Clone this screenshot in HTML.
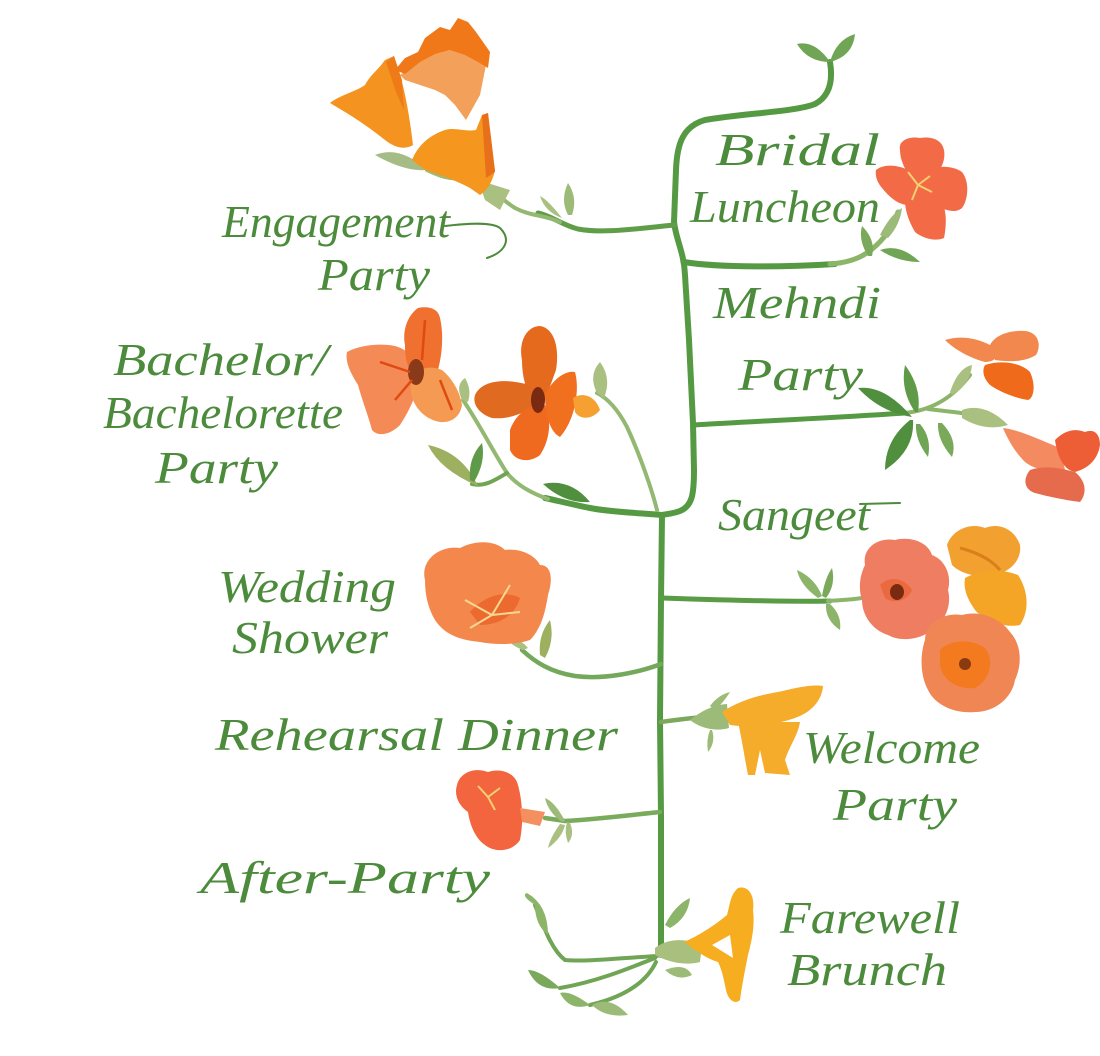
<!DOCTYPE html>
<html><head><meta charset="utf-8"><style>
html,body{margin:0;padding:0;background:#fff;}
svg{display:block}
.t{font-family:"Liberation Serif",serif;font-style:italic;font-size:46px;fill:#4b8b3b;}
</style></head><body>
<svg width="1100" height="1056" viewBox="0 0 1100 1056" xmlns="http://www.w3.org/2000/svg">
<rect width="1100" height="1056" fill="#fff"/>

<!-- ===== STEMS ===== -->
<g fill="none" stroke-linecap="round" stroke-linejoin="round">
<path d="M830 62 C833 80 830 96 815 104 C795 112 745 113 705 120 C684 126 677 142 676 170 L674 222 C676 240 684 252 685 275 L689 340 L693 423 L694 470 C694 495 692 506 680 511 C672 514 666 514 662 515 L661 600 L660 720 L661 815 L661 955" stroke="#559a43" stroke-width="6"/>
<!-- engagement -->
<path d="M675 225 C640 228 605 234 578 229 C562 225 552 216 538 213" stroke="#5f9d48" stroke-width="5"/>
<path d="M560 222 C545 215 530 216 515 208 C505 202 500 196 492 190" stroke="#93b871" stroke-width="4"/>
<path d="M427 170 C440 176 450 180 462 178" stroke="#9cbb78" stroke-width="4"/>
<!-- bridal -->
<path d="M684 262 C720 268 790 267 835 264" stroke="#559a43" stroke-width="6"/>
<path d="M830 264 C858 262 872 252 885 236 C890 228 895 220 898 212" stroke="#8db56a" stroke-width="5"/>
<!-- mehndi -->
<path d="M693 425 C760 421 830 418 905 413" stroke="#559a43" stroke-width="5"/>
<path d="M905 413 C935 410 955 395 970 375" stroke="#8db56a" stroke-width="4"/>
<path d="M928 409 C950 412 970 413 990 418" stroke="#8db56a" stroke-width="4"/>
<!-- bachelor -->
<path d="M662 515 C640 513 610 512 590 508 C570 504 555 500 545 498" stroke="#559a43" stroke-width="6"/>
<path d="M548 499 C528 492 515 483 507 473 C495 455 480 425 463 400" stroke="#93b871" stroke-width="4"/>
<path d="M657 510 C652 490 640 455 627 427 C617 408 607 398 597 393" stroke="#93b871" stroke-width="4"/>
<path d="M507 473 C495 480 485 487 472 484" stroke="#6fa554" stroke-width="4"/>
<!-- sangeet -->
<path d="M662 598 C720 600 790 602 830 601" stroke="#5a9c45" stroke-width="5"/>
<path d="M828 601 C840 600 850 600 862 598" stroke="#8db56a" stroke-width="4"/>
<!-- wedding shower -->
<path d="M661 664 C640 672 605 680 575 676 C550 672 535 662 522 650" stroke="#74a85a" stroke-width="4.5"/>
<!-- welcome -->
<path d="M661 722 C675 720 690 718 705 717" stroke="#7aa95c" stroke-width="4.5"/>
<!-- after party -->
<path d="M660 812 C630 815 600 819 565 821 L545 818" stroke="#7aaa5b" stroke-width="4.5"/>
<!-- farewell lower -->
<path d="M657 956 C620 958 585 962 565 960 C552 950 545 930 535 905" stroke="#6fa554" stroke-width="4"/>
<path d="M655 958 C625 970 595 982 560 988" stroke="#6fa554" stroke-width="4"/>
<path d="M656 962 C645 985 620 998 590 1005" stroke="#6fa554" stroke-width="4"/>
</g>

<!-- ===== LEAVES ===== -->
<g>
<!-- top -->
<path d="M830 62 Q815 40 797 44 Q808 62 830 62 Z" fill="#6fa554"/>
<path d="M830 62 Q836 40 855 34 Q853 56 830 62 Z" fill="#6fa554"/>
<!-- engagement buds -->
<path d="M568 215 Q560 200 568 183 Q578 198 572 215 Z" fill="#9cbb78"/>
<path d="M562 218 Q548 200 540 196 Q545 212 562 218 Z" fill="#a9c080"/>
<path d="M478 180 L510 190 L500 210 L485 200 Z" fill="#a9c080"/>
<path d="M375 155 Q400 145 427 170 Q405 172 375 155 Z" fill="#a6bc86"/>
<!-- bridal -->
<path d="M868 256 Q858 240 862 226 Q876 240 872 256 Z" fill="#7aa95c"/>
<path d="M880 250 Q900 243 920 262 Q898 262 880 250 Z" fill="#6fa554"/>
<path d="M880 235 Q890 215 902 208 Q900 225 888 238 Z" fill="#9cbb78"/>
<!-- mehndi -->
<path d="M858 388 Q885 385 912 417 Q880 412 858 388 Z" fill="#4f8f3e"/>
<path d="M915 412 Q900 390 905 365 Q922 388 918 412 Z" fill="#5e9a48"/>
<path d="M910 420 Q885 440 885 470 Q915 450 913 420 Z" fill="#4f8f3e"/>
<path d="M916 424 Q915 440 928 457 Q932 438 920 424 Z" fill="#6fa554"/>
<path d="M938 423 Q937 440 952 457 Q958 440 942 423 Z" fill="#7aa95c"/>
<path d="M950 392 Q958 368 972 365 Q970 385 952 395 Z" fill="#a9c080"/>
<path d="M962 410 Q985 402 1008 425 Q985 432 962 418 Z" fill="#a9c080"/>
<!-- bachelor -->
<path d="M478 486 Q440 470 428 445 Q462 452 478 486 Z" fill="#9cb060"/>
<path d="M470 480 Q468 458 482 443 Q486 462 474 482 Z" fill="#5e9a48"/>
<path d="M543 484 Q570 478 590 502 Q565 504 543 484 Z" fill="#4f8f3e"/>
<path d="M597 393 Q588 375 600 362 Q612 378 604 398 Z" fill="#a9c080"/>
<path d="M462 400 Q455 385 465 378 Q472 390 468 402 Z" fill="#a9c080"/>
<!-- sangeet -->
<path d="M818 598 Q800 585 797 570 Q815 578 822 596 Z" fill="#8db56a"/>
<path d="M822 596 Q825 578 832 568 Q836 585 826 598 Z" fill="#7aa95c"/>
<path d="M826 604 Q825 620 840 630 Q842 615 830 604 Z" fill="#8db56a"/>
<!-- wedding -->
<path d="M540 655 Q538 635 550 620 Q555 640 545 658 Z" fill="#9cb060"/>
<path d="M523 650 Q510 645 507 638 Q520 638 528 648 Z" fill="#a9c080"/>
<!-- welcome calyx -->
<path d="M690 720 C700 712 712 705 727 704 L729 728 C715 732 700 728 690 720 Z" fill="#9cbb78"/>
<path d="M710 706 Q718 695 730 692 Q724 702 715 710 Z" fill="#9cbb78"/>
<path d="M712 730 Q716 742 708 752 Q706 740 710 730 Z" fill="#9cbb78"/>
<!-- after party -->
<path d="M565 821 Q555 802 545 798 Q548 812 562 822 Z" fill="#9cbb78"/>
<path d="M560 824 Q550 838 548 848 Q562 838 565 825 Z" fill="#a9c080"/>
<path d="M570 823 Q575 835 568 843 Q564 832 567 822 Z" fill="#a9c080"/>
<!-- farewell -->
<path d="M665 925 Q675 905 690 898 Q688 918 670 928 Z" fill="#8db56a"/>
<path d="M655 948 C668 938 685 938 702 945 L700 962 C685 966 668 962 655 955 Z" fill="#a8bf7e"/>
<path d="M665 970 Q685 962 692 975 Q678 982 665 970 Z" fill="#9cbb78"/>
<path d="M535 905 Q520 895 527 893 Q548 905 548 935 Q535 925 535 905 Z" fill="#8db56a"/>
<path d="M560 988 Q540 970 528 970 Q538 992 560 988 Z" fill="#7aa95c"/>
<path d="M590 1005 Q570 990 560 993 Q570 1012 590 1005 Z" fill="#8db56a"/>
<path d="M592 1005 Q610 995 628 1015 Q605 1018 592 1005 Z" fill="#9cbb78"/>
</g>

<!-- ===== FLOWERS ===== -->
<!-- engagement A -->
<path d="M330 103 C340 95 355 92 365 85 C370 75 378 70 385 60 L394 56 L400 75 C406 95 410 120 413 145 C405 150 395 148 385 140 C370 128 355 118 345 112 Z" fill="#f59320"/>
<path d="M386 62 L394 56 L402 80 L404 110 L396 92 Z" fill="#ee7a18"/>
<!-- engagement B -->
<path d="M400 75 L430 55 L470 45 L486 65 L480 95 L466 120 L455 105 L445 95 L435 90 L420 85 L405 80 Z" fill="#f3a05a"/>
<path d="M395 70 L405 58 L418 52 L425 38 L440 27 L450 30 L458 18 L468 22 L476 32 L483 42 L490 52 L488 68 L478 62 L465 55 L450 50 L435 54 L420 62 L405 74 Z" fill="#f07818"/>
<!-- engagement C -->
<path d="M412 160 C418 145 430 135 445 130 C455 127 465 132 476 130 L482 115 L488 113 C490 130 492 150 495 170 C493 180 488 190 480 195 L470 188 C455 180 440 175 425 170 Z" fill="#f5961e"/>
<path d="M482 115 L488 113 C490 130 493 152 495 172 L486 178 Z" fill="#e8701a"/>

<!-- bridal -->
<g fill="#f26b46">
<path d="M900 150 C898 140 910 136 920 138 C932 136 942 140 944 150 C946 162 940 172 930 180 L915 182 C905 172 900 160 900 150 Z"/>
<path d="M925 172 C935 165 952 165 962 172 C970 182 968 200 962 208 C955 214 945 210 935 205 C928 195 924 185 925 172 Z"/>
<path d="M905 195 C915 188 930 190 940 198 C948 210 946 228 944 238 C935 242 922 238 915 232 C908 220 904 208 905 195 Z"/>
<path d="M876 170 C885 163 900 165 912 172 C918 182 915 198 910 205 C900 206 890 198 882 188 C877 182 875 176 876 170 Z"/>
<circle cx="918" cy="185" r="16"/>
</g>
<g stroke="#f5d070" stroke-width="2" fill="none"><path d="M918 185 L908 172 M918 185 L930 176 M918 185 L912 200 M918 185 L932 192"/></g>

<!-- mehndi upper -->
<path d="M945 340 C960 335 980 338 995 348 C1000 356 995 362 985 362 C970 358 955 350 945 340 Z" fill="#f2884e"/>
<path d="M990 345 C995 335 1010 330 1025 331 C1038 332 1042 345 1036 355 C1025 362 1010 362 995 360 Z" fill="#f2884e"/>
<path d="M985 365 C1000 360 1020 362 1030 372 C1036 385 1034 398 1028 400 C1015 398 1000 392 990 385 C983 378 982 370 985 365 Z" fill="#f06a1c"/>
<!-- mehndi lower -->
<path d="M1003 428 C1020 430 1040 440 1060 448 L1065 470 C1050 472 1035 470 1025 462 C1015 452 1008 440 1003 428 Z" fill="#f48a60"/>
<path d="M1055 440 C1065 430 1075 428 1085 432 C1095 428 1100 435 1100 445 C1098 458 1090 468 1075 472 C1065 470 1058 460 1055 440 Z" fill="#ee5e36"/>
<path d="M1030 470 C1045 465 1060 468 1075 472 C1085 480 1088 492 1080 502 C1065 500 1050 497 1035 493 C1025 490 1022 480 1030 470 Z" fill="#e66a4c"/>

<!-- bachelor left -->
<path d="M347 352 C360 345 380 343 395 346 C410 350 418 362 420 375 C418 392 410 410 400 425 C390 435 378 437 372 430 C368 415 362 400 358 385 C350 372 345 362 347 352 Z" fill="#f48a55"/>
<path d="M405 345 C402 330 408 315 418 308 C428 306 438 308 440 318 C444 335 442 355 438 370 C430 378 418 378 410 370 C406 362 405 354 405 345 Z" fill="#f07030"/>
<path d="M412 378 C418 368 430 365 442 370 C452 378 460 392 462 405 C460 418 450 423 440 422 C428 420 418 412 413 400 C410 392 410 385 412 378 Z" fill="#f59a52"/>
<ellipse cx="416" cy="372" rx="8" ry="13" fill="#8a3a18"/>
<g stroke="#e04a10" stroke-width="2.5" fill="none"><path d="M380 362 L410 372 M395 400 L412 380 M425 320 L422 360 M440 380 L452 410"/></g>
<!-- bachelor right -->
<path d="M522 360 C518 340 528 326 540 326 C553 328 560 345 556 370 L545 400 L530 395 C524 385 522 372 522 360 Z" fill="#e56a1e"/>
<path d="M475 395 C482 380 505 378 530 385 L540 398 C530 412 510 420 492 418 C480 414 472 405 475 395 Z" fill="#e06a20"/>
<path d="M510 430 C515 415 530 402 545 405 C552 420 550 440 540 455 C530 463 515 462 510 450 Z" fill="#ef6a1e"/>
<path d="M545 395 C552 380 565 370 575 372 C580 390 575 420 560 437 C550 432 545 415 545 395 Z" fill="#f07020"/>
<path d="M573 398 C582 392 595 395 600 410 C592 420 580 420 575 412 Z" fill="#f5a030"/>
<ellipse cx="538" cy="400" rx="7" ry="13" fill="#7a2a10"/>

<!-- wedding shower -->
<path d="M425 580 C420 560 440 545 460 548 C475 540 495 540 505 550 C520 548 535 555 540 565 C552 565 553 580 548 595 C545 615 540 630 530 640 C515 645 495 645 480 642 C460 640 445 635 435 620 C428 608 425 595 425 580 Z" fill="#f4874c"/>
<path d="M470 612 C485 595 505 590 520 598 C515 615 500 625 480 625 Z" fill="#ec6a30"/>
<g stroke="#f6d890" stroke-width="2" fill="none"><path d="M492 615 L465 600 M492 615 L510 585 M492 615 L520 612 M492 615 L470 628"/></g>

<!-- sangeet pink -->
<path d="M865 565 C862 548 878 537 895 540 C910 536 928 542 932 555 C945 560 952 575 948 590 C952 605 945 622 932 630 C920 640 900 642 888 635 C872 630 862 615 862 600 C858 588 860 575 865 565 Z" fill="#ef7d62"/>
<path d="M880 585 C890 575 905 578 912 590 C908 600 895 605 885 598 Z" fill="#ea6a40"/>
<ellipse cx="897" cy="592" rx="7" ry="8" fill="#7a2a10"/>
<!-- sangeet gold -->
<path d="M947 545 C952 530 970 522 985 528 C1000 522 1015 530 1020 545 C1022 560 1010 572 995 575 C980 578 962 575 952 565 Z" fill="#f2a030"/>
<path d="M965 578 C980 570 1000 568 1018 575 C1028 590 1030 610 1020 625 C1005 628 985 622 975 610 C968 600 963 590 965 578 Z" fill="#f5a525"/>
<path d="M960 548 C975 552 990 558 1000 570" stroke="#d8801a" stroke-width="3" fill="none"/>
<!-- sangeet bottom -->
<path d="M925 640 C925 622 945 612 962 615 C980 610 1000 618 1010 632 C1022 645 1022 665 1015 680 C1012 698 995 712 975 712 C955 714 935 705 928 690 C920 675 920 655 925 640 Z" fill="#f08654"/>
<path d="M940 650 C950 640 970 638 985 648 C995 660 990 680 975 688 C958 690 942 680 940 665 Z" fill="#f47a20"/>
<circle cx="965" cy="664" r="6" fill="#8a3a10"/>

<!-- welcome -->
<path d="M722 712 C740 700 760 695 778 692 C795 688 812 684 823 686 C822 700 812 712 795 718 C775 725 750 728 730 725 Z" fill="#f5ac2a"/>
<path d="M738 722 L800 722 C798 735 790 745 785 760 L790 775 L765 773 L760 750 L755 775 L748 775 C745 760 742 740 738 722 Z" fill="#f5ac2a"/>

<!-- after party -->
<path d="M457 785 C460 772 475 767 488 772 C500 768 515 772 518 785 C522 800 524 820 520 840 C512 852 495 853 485 845 C475 838 470 825 468 812 C458 805 454 795 457 785 Z" fill="#f2653e"/>
<path d="M520 808 L545 812 L540 826 L522 822 Z" fill="#f49060"/>
<g stroke="#f6d070" stroke-width="2" fill="none"><path d="M488 797 L478 786 M488 797 L500 788 M488 797 L495 810"/></g>

<!-- farewell -->
<path d="M684 942 C700 935 715 925 727 915 C730 905 730 895 738 888 C748 885 755 895 753 910 C755 925 752 940 748 955 C745 970 742 985 740 1000 C735 1005 728 1000 726 990 C724 980 722 970 718 962 C705 958 695 950 684 942 Z" fill="#f6ad20"/>
<path d="M712 945 L730 935 L733 958 Z" fill="#fff"/>

<!-- ===== TEXT ===== -->
<g class="t">
<text x="715" y="165" textLength="165" lengthAdjust="spacingAndGlyphs">Bridal</text>
<text x="690" y="222" textLength="190" lengthAdjust="spacingAndGlyphs">Luncheon</text>
<text x="222" y="237" textLength="228" lengthAdjust="spacingAndGlyphs">Engagement</text>
<text x="318" y="290" textLength="112" lengthAdjust="spacingAndGlyphs">Party</text>
<text x="713" y="318" textLength="168" lengthAdjust="spacingAndGlyphs">Mehndi</text>
<text x="738" y="390" textLength="125" lengthAdjust="spacingAndGlyphs">Party</text>
<text x="113" y="375" textLength="215" lengthAdjust="spacingAndGlyphs">Bachelor/</text>
<text x="103" y="428" textLength="240" lengthAdjust="spacingAndGlyphs">Bachelorette</text>
<text x="155" y="483" textLength="123" lengthAdjust="spacingAndGlyphs">Party</text>
<text x="718" y="530" textLength="152" lengthAdjust="spacingAndGlyphs">Sangeet</text>
<text x="218" y="602" textLength="178" lengthAdjust="spacingAndGlyphs">Wedding</text>
<text x="232" y="653" textLength="156" lengthAdjust="spacingAndGlyphs">Shower</text>
<text x="215" y="750" textLength="403" lengthAdjust="spacingAndGlyphs">Rehearsal Dinner</text>
<text x="803" y="763" textLength="177" lengthAdjust="spacingAndGlyphs">Welcome</text>
<text x="833" y="820" textLength="124" lengthAdjust="spacingAndGlyphs">Party</text>
<text x="200" y="893" textLength="290" lengthAdjust="spacingAndGlyphs">After-Party</text>
<text x="780" y="933" textLength="180" lengthAdjust="spacingAndGlyphs">Farewell</text>
<text x="787" y="985" textLength="160" lengthAdjust="spacingAndGlyphs">Brunch</text>
</g>
<g fill="none" stroke="#4b8b3b" stroke-width="2" stroke-linecap="round">
<path d="M445 226 C470 223 492 222 500 228 C512 240 505 252 487 258"/>
<path d="M860 504 L900 503"/>
</g>
</svg>
</body></html>
